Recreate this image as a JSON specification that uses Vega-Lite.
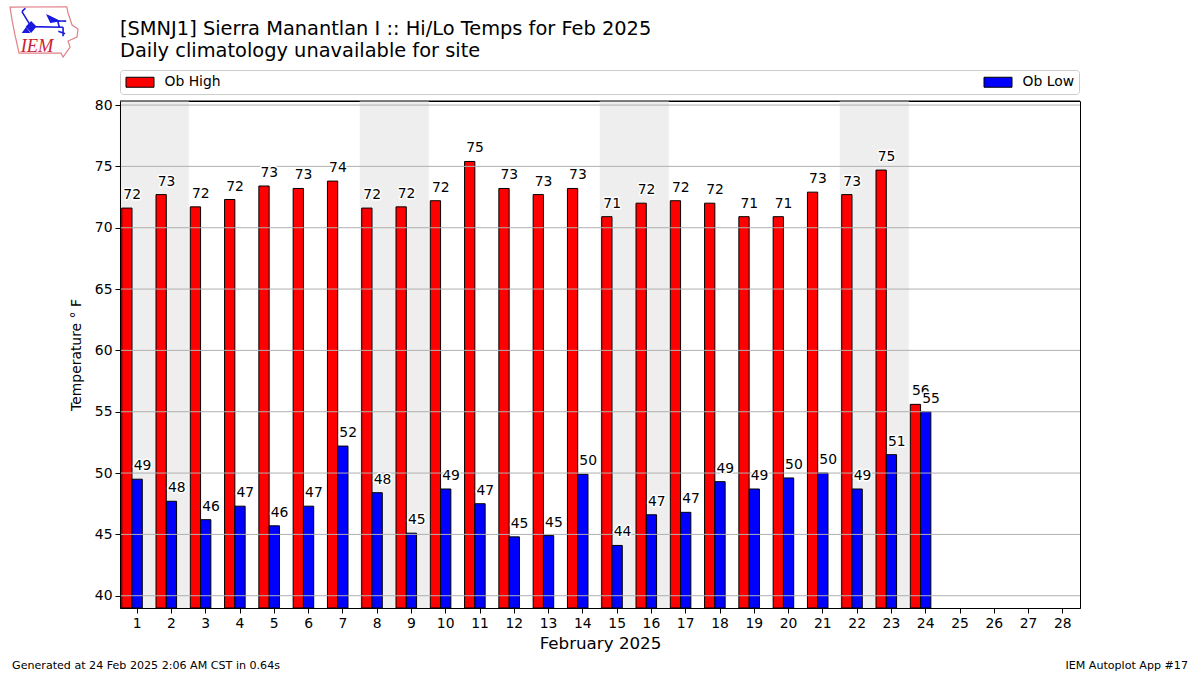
{
"$schema":"https://vega.github.io/schema/vega-lite/v6.json",
"width":960,"height":507,
"autosize":"none",
"padding":{"left":120,"top":101,"right":120,"bottom":67},
"background":"white",
"title":{"text":["[SMNJ1] Sierra Manantlan I :: Hi/Lo Temps for Feb 2025","Daily climatology unavailable for site"],"anchor":"start","frame":"group","font":"DejaVu Sans","fontSize":19.4,"fontWeight":"normal","color":"black","lineHeight":21.5,"offset":-57},
"config":{"view":{"stroke":"black","strokeWidth":1},"font":"DejaVu Sans","axis":{"labelFont":"DejaVu Sans","titleFont":"DejaVu Sans","labelColor":"black","titleColor":"black","tickColor":"black","domainColor":"black","labelFontSize":13.9,"tickSize":5,"labelPadding":3,"grid":false,"titleFontWeight":"normal"},"legend":{"labelFont":"DejaVu Sans"}},
"datasets":{
"obs":[
{"day":1,"series":"Ob High","value":71.6,"label":"72"},{"day":2,"series":"Ob High","value":72.7,"label":"73"},{"day":3,"series":"Ob High","value":71.7,"label":"72"},{"day":4,"series":"Ob High","value":72.3,"label":"72"},{"day":5,"series":"Ob High","value":73.4,"label":"73"},{"day":6,"series":"Ob High","value":73.2,"label":"73"},{"day":7,"series":"Ob High","value":73.8,"label":"74"},{"day":8,"series":"Ob High","value":71.6,"label":"72"},{"day":9,"series":"Ob High","value":71.7,"label":"72"},{"day":10,"series":"Ob High","value":72.2,"label":"72"},{"day":11,"series":"Ob High","value":75.4,"label":"75"},{"day":12,"series":"Ob High","value":73.2,"label":"73"},{"day":13,"series":"Ob High","value":72.7,"label":"73"},{"day":14,"series":"Ob High","value":73.2,"label":"73"},{"day":15,"series":"Ob High","value":70.9,"label":"71"},{"day":16,"series":"Ob High","value":72.0,"label":"72"},{"day":17,"series":"Ob High","value":72.2,"label":"72"},{"day":18,"series":"Ob High","value":72.0,"label":"72"},{"day":19,"series":"Ob High","value":70.9,"label":"71"},{"day":20,"series":"Ob High","value":70.9,"label":"71"},{"day":21,"series":"Ob High","value":72.9,"label":"73"},{"day":22,"series":"Ob High","value":72.7,"label":"73"},{"day":23,"series":"Ob High","value":74.7,"label":"75"},{"day":24,"series":"Ob High","value":55.6,"label":"56"},
{"day":1,"series":"Ob Low","value":49.5,"label":"49"},{"day":2,"series":"Ob Low","value":47.7,"label":"48"},{"day":3,"series":"Ob Low","value":46.2,"label":"46"},{"day":4,"series":"Ob Low","value":47.3,"label":"47"},{"day":5,"series":"Ob Low","value":45.7,"label":"46"},{"day":6,"series":"Ob Low","value":47.3,"label":"47"},{"day":7,"series":"Ob Low","value":52.2,"label":"52"},{"day":8,"series":"Ob Low","value":48.4,"label":"48"},{"day":9,"series":"Ob Low","value":45.1,"label":"45"},{"day":10,"series":"Ob Low","value":48.7,"label":"49"},{"day":11,"series":"Ob Low","value":47.5,"label":"47"},{"day":12,"series":"Ob Low","value":44.8,"label":"45"},{"day":13,"series":"Ob Low","value":44.9,"label":"45"},{"day":14,"series":"Ob Low","value":49.9,"label":"50"},{"day":15,"series":"Ob Low","value":44.1,"label":"44"},{"day":16,"series":"Ob Low","value":46.6,"label":"47"},{"day":17,"series":"Ob Low","value":46.8,"label":"47"},{"day":18,"series":"Ob Low","value":49.3,"label":"49"},{"day":19,"series":"Ob Low","value":48.7,"label":"49"},{"day":20,"series":"Ob Low","value":49.6,"label":"50"},{"day":21,"series":"Ob Low","value":50.0,"label":"50"},{"day":22,"series":"Ob Low","value":48.7,"label":"49"},{"day":23,"series":"Ob Low","value":51.5,"label":"51"},{"day":24,"series":"Ob Low","value":55.0,"label":"55"}
]},
"data":{"name":"obs"},
"layer":[
{"data":{"values":[{"day":1},{"day":2},{"day":8},{"day":9},{"day":15},{"day":16},{"day":22},{"day":23}]},
 "mark":{"type":"rect","color":"#eeeeee","stroke":"#eeeeee","strokeWidth":0.5},
 "encoding":{"x":{"field":"day","type":"ordinal","scale":{"domain":[1,2,3,4,5,6,7,8,9,10,11,12,13,14,15,16,17,18,19,20,21,22,23,24,25,26,27,28],"paddingInner":0,"paddingOuter":0},"axis":{"title":"February 2025","titleFontSize":16.7,"titlePadding":6,"labelAngle":0,"zindex":1}}}},
{"mark":{"type":"bar","stroke":"black","strokeWidth":1},
 "encoding":{
  "x":{"field":"day","type":"ordinal"},
  "xOffset":{"field":"series","type":"nominal","scale":{"domain":["Ob High","Ob Low","gap"],"paddingInner":0,"paddingOuter":0.1667}},
  "y":{"field":"value","type":"quantitative","scale":{"domain":[39,80.33],"nice":false,"zero":false},"axis":{"title":"Temperature ° F","titleFontSize":13.9,"values":[40,45,50,55,60,65,70,75,80],"titlePadding":11,"zindex":1}},
  "y2":{"datum":39},
  "color":{"field":"series","type":"nominal","scale":{"domain":["Ob High","Ob Low"],"range":["#ff0000","#0000ff"]},
   "legend":{"title":null,"orient":"none","legendX":0,"legendY":-31,"direction":"horizontal","columns":2,"columnPadding":760,"padding":4.5,"fillColor":"white","strokeColor":"#cccccc","cornerRadius":3,"symbolType":"M-.857,-0.714H3.143V0.714H-.857Z","symbolSize":196,"symbolStrokeColor":"black","symbolStrokeWidth":1,"labelOffset":25,"labelFontSize":13.9,"labelColor":"black"}}}},
{"data":{"values":[{"tick":40},{"tick":45},{"tick":50},{"tick":55},{"tick":60},{"tick":65},{"tick":70},{"tick":75},{"tick":80}]},
 "mark":{"type":"rule","color":"#b0b0b0","strokeWidth":1},
 "encoding":{"y":{"field":"tick","type":"quantitative"}}},
{"data":{"values":[{"edge":80.33}]},
 "mark":{"type":"rule","color":"black","strokeWidth":1},
 "encoding":{"y":{"field":"edge","type":"quantitative"}}},
{"transform":[{"filter":"datum.series=='Ob High'"}],
 "mark":{"type":"text","align":"left","baseline":"alphabetic","dx":-3.5,"dy":-9,"fontSize":13.9,"font":"DejaVu Sans","stroke":"white","strokeWidth":3,"strokeJoin":"round"},
 "encoding":{"x":{"field":"day","type":"ordinal"},"xOffset":{"field":"series","type":"nominal"},"y":{"field":"value","type":"quantitative"},"text":{"field":"label"}}},
{"transform":[{"filter":"datum.series=='Ob High'"}],
 "mark":{"type":"text","align":"left","baseline":"alphabetic","dx":-3.5,"dy":-9,"fontSize":13.9,"font":"DejaVu Sans","color":"black"},
 "encoding":{"x":{"field":"day","type":"ordinal"},"xOffset":{"field":"series","type":"nominal"},"y":{"field":"value","type":"quantitative"},"text":{"field":"label"}}},
{"transform":[{"filter":"datum.series=='Ob Low'"}],
 "mark":{"type":"text","align":"left","baseline":"alphabetic","dx":-3.5,"dy":-9,"fontSize":13.9,"font":"DejaVu Sans","stroke":"white","strokeWidth":3,"strokeJoin":"round"},
 "encoding":{"x":{"field":"day","type":"ordinal"},"xOffset":{"field":"series","type":"nominal"},"y":{"field":"value","type":"quantitative"},"text":{"field":"label"}}},
{"transform":[{"filter":"datum.series=='Ob Low'"}],
 "mark":{"type":"text","align":"left","baseline":"alphabetic","dx":-3.5,"dy":-9,"fontSize":13.9,"font":"DejaVu Sans","color":"black"},
 "encoding":{"x":{"field":"day","type":"ordinal"},"xOffset":{"field":"series","type":"nominal"},"y":{"field":"value","type":"quantitative"},"text":{"field":"label"}}},
{"data":{"values":[{"note":"Generated at 24 Feb 2025 2:06 AM CST in 0.64s"}]},
 "mark":{"type":"text","align":"left","baseline":"middle","dx":-125.1,"dy":58,"fontSize":11.1,"font":"DejaVu Sans","color":"black"},
 "encoding":{"x":{"datum":1,"type":"ordinal"},"y":{"datum":39,"type":"quantitative"},"text":{"field":"note"}}},
{"data":{"values":[{"note":"IEM Autoplot App #17"}]},
 "mark":{"type":"text","align":"right","baseline":"middle","dx":125.1,"dy":58,"fontSize":11.1,"font":"DejaVu Sans","color":"black"},
 "encoding":{"x":{"datum":28,"type":"ordinal"},"y":{"datum":39,"type":"quantitative"},"text":{"field":"note"}}},
{"data":{"values":[{"note":"logo outline"}]},
 "mark":{"type":"point","shape":"M-1,-.735L.668,-.744L.706,-.559L.824,-.206L1,-.088L.97,.147L.706,.265L.765,.441L.559,.735L.5,.618L-.735,.618L-.853,.088L-.941,-.353Z","size":4624,"filled":false,"stroke":"#e0808a","strokeWidth":1.2,"opacity":1,"xOffset":-93.1,"yOffset":-73},
 "encoding":{"x":{"datum":1,"type":"ordinal"},"y":{"datum":80,"type":"quantitative"}}},
{"data":{"values":[{"note":"logo network"}]},
 "mark":{"type":"point","shape":"M-.65,-.6L-.38,-.16M-.65,-.6L-.55,-.7M-.38,-.16L.56,-.14M.12,-.47L.4,-.33L.65,-.32M.4,-.33L.45,-.14M.56,-.14L.56,.12M.42,-.02L.62,.05","size":4624,"filled":false,"stroke":"#1a1ae0","strokeWidth":1.6,"opacity":1,"xOffset":-93.1,"yOffset":-73},
 "encoding":{"x":{"datum":1,"type":"ordinal"},"y":{"datum":80,"type":"quantitative"}}},
{"data":{"values":[{"note":"logo node"}]},
 "mark":{"type":"point","shape":"M-.5,-.16L-.38,-.28L-.26,-.16L-.38,-.02ZM.12,-.47L.4,-.33L.2,-.3ZM-.6,0L-.53,-.1L-.46,0Z","size":4624,"filled":true,"fill":"#1a1ae0","stroke":"#1a1ae0","opacity":1,"xOffset":-93.1,"yOffset":-73},
 "encoding":{"x":{"datum":1,"type":"ordinal"},"y":{"datum":80,"type":"quantitative"}}},
{"data":{"values":[{"note":"IEM"}]},
 "mark":{"type":"text","align":"left","baseline":"alphabetic","dx":-116.5,"dy":-53,"fontSize":18.5,"font":"Liberation Serif","fontStyle":"italic","color":"#cc2233"},
 "encoding":{"x":{"datum":1,"type":"ordinal"},"y":{"datum":80,"type":"quantitative"},"text":{"field":"note"}}}
]
}
